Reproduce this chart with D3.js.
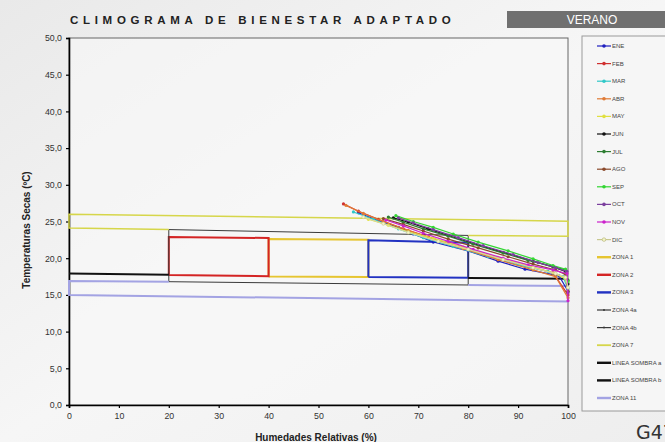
<!DOCTYPE html>
<html><head><meta charset="utf-8">
<script src="https://cdn.jsdelivr.net/npm/d3@7"></script>
<style>
html,body{margin:0;padding:0;background:#f1f1f1;}
svg{display:block;font-family:Arial,"Liberation Sans",sans-serif;}
</style></head>
<body><svg id="c" width="665" height="442"></svg>
<script>
// ---------- data ----------
const xTicks = [0,10,20,30,40,50,60,70,80,90,100];
const yTicks = [0,5,10,15,20,25,30,35,40,45,50];
const months = ["ENE","FEB","MAR","ABR","MAY","JUN","JUL","AGO","SEP","OCT","NOV","DIC"];
const monthColors = ["#1f1fbf","#d03030","#30c8c8","#e07a35","#e0e040","#111111","#2e7d32","#8b4a2b","#33d633","#7b3f9e","#cc22cc","#f4f4c8"];
const humENE=[58,62,66,69,73,80,86,91.4,98.2,100], tempENE=[26.2,25.1,24.2,23.3,22.2,21.0,19.6,18.5,17.6,15.5];
const humFEB=[55,58,62,67,72,78,85,92,97,100], tempFEB=[27.4,26.4,25.3,24.0,22.9,21.6,20.2,18.9,18.0,15.0];
const humMAR=[57,61,66,71,77,84,90,96,99,100], tempMAR=[26.3,25.3,24.0,22.8,21.6,20.2,19.1,18.2,17.5,15.8];
const humABR=[55.5,59,63,68,73,79,86,93,97.5,100], tempABR=[27.2,26.1,25.0,23.8,22.6,21.3,19.8,18.4,17.5,14.6];
const humMAY=[60,64,68,73,79,86,92,97,99.5,100], tempMAY=[25.3,24.5,23.6,22.7,21.5,20.1,19.0,18.0,17.2,15.5];
const humJUN=[65,68,72,76,81,87,93,97,99.5,100], tempJUN=[25.5,24.9,24.0,23.1,22.0,20.8,19.6,18.8,18.2,16.5];
const humJUL=[64,67,71,76,81,87,92,97,99.5,100], tempJUL=[25.6,24.9,24.0,23.0,21.9,20.7,19.7,18.9,18.4,17.0];
const humAGO=[63,67,71,76,82,88,93,97.5,99.5,100], tempAGO=[25.4,24.6,23.7,22.6,21.4,20.2,19.2,18.4,17.8,15.5];
const humSEP=[65.5,69,73,77,82,88,93,97,99.5,100], tempSEP=[25.8,25.0,24.2,23.3,22.2,21.0,19.9,19.0,18.5,16.8];
const humOCT=[66,69,73,78,83,89,94,97.5,99.8,100], tempOCT=[25.5,24.8,23.9,22.8,21.7,20.5,19.4,18.7,18.2,15.3];
const humNOV=[63.5,67,71,76,81,87,92,97,99.8,100], tempNOV=[25.2,24.4,23.4,22.3,21.2,20.0,19.1,18.4,17.9,14.2];
const humDIC=[59,63,68,74,80,87,93,97.5,99.5,100], tempDIC=[25.6,24.7,23.5,22.3,21.2,19.8,18.7,17.9,17.4,16.0];
const monthHum=[humENE,humFEB,humMAR,humABR,humMAY,humJUN,humJUL,humAGO,humSEP,humOCT,humNOV,humDIC];
const monthTemp=[tempENE,tempFEB,tempMAR,tempABR,tempMAY,tempJUN,tempJUL,tempAGO,tempSEP,tempOCT,tempNOV,tempDIC];

const zoneNames=["ZONA 1","ZONA 2","ZONA 3","ZONA 4a","ZONA 4b","ZONA 7","LINEA SOMBRA a","LINEA SOMBRA b","ZONA 11"];
const zoneColors=["#e6c531","#d42424","#2232c2","#3a3a3a","#3a3a3a","#d6d64a","#111111","#111111","#a3a3e3"];
const zoneWidths=[2,2,2,1,1,1.5,2,2,2];
const humZ1=[40,40,60,60,40],   tempZ1=[17.5,22.6,22.5,17.45,17.5];
const humZ2=[20,20,40,40,20],   tempZ2=[17.7,22.9,22.75,17.55,17.7];
const humZ3=[60,60,80,80,60],   tempZ3=[17.45,22.45,22.1,17.35,17.45];
const humZ4a=[20,20,80,80],     tempZ4a=[16.8,23.9,23.1,16.35];
const humZ4b=[20,80],           tempZ4b=[16.8,16.35];
const humZ7=[20,0,0,100,100,80], tempZ7=[23.9,24.1,26.0,25.05,23.0,23.1];
const humSa=[0,20], tempSa=[17.9,17.75];
const humSb=[80,100], tempSb=[17.3,17.2];
const humZ11=[20,0,0,100,100,80], tempZ11=[16.8,16.9,15.0,14.1,16.2,16.35];
const zoneHum=[humZ1,humZ2,humZ3,humZ4a,humZ4b,humZ7,humSa,humSb,humZ11];
const zoneTemp=[tempZ1,tempZ2,tempZ3,tempZ4a,tempZ4b,tempZ7,tempSa,tempSb,tempZ11];

// ---------- drawing ----------
const svg=d3.select("#c");
const x=d3.scaleLinear().domain([0,100]).range([69,568]);
const y=d3.scaleLinear().domain([0,50]).range([405,38]);
const fmt=v=>d3.format(".1f")(v).replace(".",",");

// background
const bg=svg.append("defs").append("linearGradient").attr("id","bg").attr("x1","0").attr("y1","0").attr("x2","1").attr("y2","1");
bg.append("stop").attr("offset","0").attr("stop-color","#e9e9e9");
bg.append("stop").attr("offset","0.5").attr("stop-color","#f6f6f6");
bg.append("stop").attr("offset","1").attr("stop-color","#eeeeee");
svg.append("rect").attr("width",665).attr("height",442).attr("fill","url(#bg)");
svg.append("rect").attr("x",x(0)).attr("y",y(50)).attr("width",x(100)-x(0)).attr("height",y(0)-y(50))
  .attr("fill","#f8f8f8").attr("fill-opacity",0.6).attr("stroke","#666").attr("stroke-width",1);

// title
svg.append("text").attr("x",70).attr("y",24).attr("font-size",11.5).attr("font-weight","bold")
  .attr("letter-spacing","4.7px").attr("fill","#222").text("CLIMOGRAMA DE BIENESTAR ADAPTADO");
svg.append("rect").attr("x",507).attr("y",11).attr("width",160).attr("height",17).attr("fill","#707070");
svg.append("text").attr("x",592).attr("y",24).attr("text-anchor","middle").attr("font-size",12)
  .attr("fill","#fff").text("VERANO");

// axes
const gx=svg.append("g").attr("transform",`translate(0,${y(0)})`)
  .call(d3.axisBottom(x).tickValues(xTicks).tickSize(3).tickPadding(5).tickFormat(d3.format("d")));
const gy=svg.append("g").attr("transform",`translate(${x(0)},0)`)
  .call(d3.axisLeft(y).tickValues(yTicks).tickSize(3).tickPadding(4).tickFormat(fmt));
[gx,gy].forEach(g=>{
  g.select(".domain").attr("stroke","#000").attr("stroke-width",1.6);
  g.selectAll(".tick line").attr("stroke","#000").attr("stroke-width",1.2);
  g.selectAll(".tick text").attr("font-size",8.8).attr("fill","#333").attr("font-family","Arial, 'Liberation Sans', sans-serif");
});
svg.append("text").attr("transform","translate(30,230) rotate(-90)").attr("text-anchor","middle")
  .attr("font-size",10).attr("font-weight","bold").attr("fill","#222").text("Temperaturas Secas (ºC)");
svg.append("text").attr("x",316).attr("y",441).attr("text-anchor","middle")
  .attr("font-size",10).attr("font-weight","bold").attr("fill","#222").text("Humedades Relativas (%)");

// zones
const line=d3.line().x(d=>x(d[0])).y(d=>y(d[1]));
zoneNames.forEach((n,i)=>{
  const pts=zoneHum[i].map((h,j)=>[h,zoneTemp[i][j]]);
  svg.append("path").attr("d",line(pts)).attr("fill","none").attr("stroke",zoneColors[i])
    .attr("stroke-width",zoneWidths[i]).attr("stroke-linejoin","miter");
});

// months
months.forEach((m,i)=>{
  const pts=monthHum[i].map((h,j)=>[h,monthTemp[i][j]]);
  const stroke=i===11?"#d8d8a0":monthColors[i];
  svg.append("path").attr("d",line(pts)).attr("fill","none").attr("stroke",stroke).attr("stroke-width",1.2);
  svg.append("g").selectAll("circle").data(pts).join("circle")
    .attr("cx",d=>x(d[0])).attr("cy",d=>y(d[1])).attr("r",1.6)
    .attr("fill",monthColors[i]).attr("stroke",i===11?"#c8c890":"none").attr("stroke-width",0.6);
});

// legend
svg.append("rect").attr("x",582).attr("y",36).attr("width",100).attr("height",375)
  .attr("fill","#f6f6f6").attr("stroke","#9a9a9a").attr("stroke-width",1);
const names=months.concat(zoneNames);
names.forEach((n,k)=>{
  const yy=46+k*17.6;
  const g=svg.append("g");
  if(k<12){
    g.append("line").attr("x1",597).attr("x2",611).attr("y1",yy).attr("y2",yy)
      .attr("stroke",k===11?"#c8c890":monthColors[k]).attr("stroke-width",1.2);
    g.append("circle").attr("cx",604).attr("cy",yy).attr("r",1.8).attr("fill",monthColors[k])
      .attr("stroke",k===11?"#b0b070":"none").attr("stroke-width",0.6);
  } else {
    const i=k-12;
    g.append("line").attr("x1",597).attr("x2",611).attr("y1",yy).attr("y2",yy)
      .attr("stroke",zoneColors[i]).attr("stroke-width",Math.max(1,zoneWidths[i]*1.2));
    if(i===3||i===4) g.append("circle").attr("cx",604).attr("cy",yy).attr("r",1).attr("fill",zoneColors[i]);
  }
  g.append("text").attr("x",612).attr("y",yy+2).attr("font-size",6).attr("fill","#444").text(n);
});

// corner mark (partly outside the frame, as in the reference)
svg.append("text").attr("x",636).attr("y",439).attr("font-size",19).attr("fill","#333")
  .attr("font-family","'DejaVu Sans', sans-serif").text("G47");
</script></body></html>
